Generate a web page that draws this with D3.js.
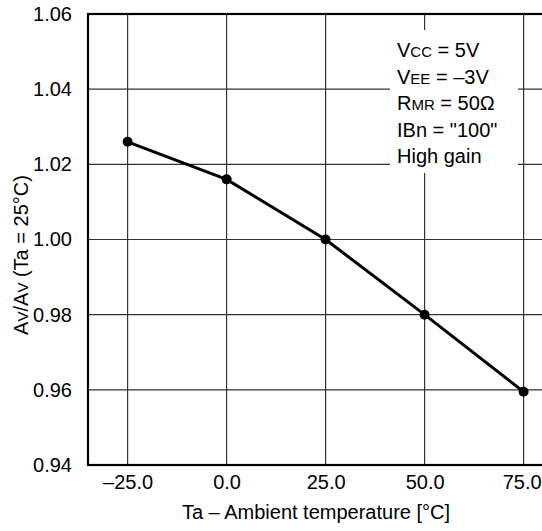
<!DOCTYPE html>
<html>
<head>
<meta charset="utf-8">
<script src="https://cdn.jsdelivr.net/npm/d3@7"></script>
<style>
  body { margin: 0; background: #fff; }
  svg { display: block; font-family: "Liberation Sans", Arial, sans-serif; }
</style>
</head>
<body>
<svg id="chart" width="542" height="531"></svg>
<script>
// data
const temps = [-25, 0, 25, 50, 75];
const gainRatio = [1.026, 1.016, 1.000, 0.980, 0.9595];
const xTicks = [-25, 0, 25, 50, 75];
const yTicks = [0.94, 0.96, 0.98, 1.00, 1.02, 1.04, 1.06];
const notes = [
  [["V", 20], ["CC", 15], [" = 5V", 20]],
  [["V", 20], ["EE", 15], [" = \u20133V", 20]],
  [["R", 20], ["MR", 15], [" = 50\u03a9", 20]],
  [["IBn = \"100\"", 20]],
  [["High gain", 20]]
];

const svg = d3.select("#chart");
const plotLeft = 88, plotTop = 14, plotBottom = 465;
const fs = 20;

const x = d3.scaleLinear().domain([-35, 85]).range([plotLeft, plotLeft + 120 * 3.96]);
const y = d3.scaleLinear().domain([0.94, 1.06]).range([plotBottom, plotTop]);

// grid
svg.append("g").selectAll("line").data(xTicks).join("line")
  .attr("x1", d => x(d)).attr("x2", d => x(d))
  .attr("y1", plotTop).attr("y2", plotBottom)
  .attr("stroke", "#333").attr("stroke-width", 1.2);
svg.append("g").selectAll("line").data(yTicks.slice(1, -1)).join("line")
  .attr("x1", plotLeft).attr("x2", x(85))
  .attr("y1", d => y(d)).attr("y2", d => y(d))
  .attr("stroke", "#333").attr("stroke-width", 1.2);

// notes box covers the grid
svg.append("rect").attr("x", 390).attr("y", 30).attr("width", 128).attr("height", 143)
  .attr("fill", "#fff");
const noteText = svg.append("g");
notes.forEach((parts, i) => {
  const t = noteText.append("text").attr("x", 397).attr("y", 57 + i * 26.5)
    .attr("fill", "#000");
  parts.forEach(p => t.append("tspan").attr("font-size", p[1]).text(p[0]));
});

// frame
svg.append("rect").attr("x", plotLeft).attr("y", plotTop)
  .attr("width", x(85) - plotLeft).attr("height", plotBottom - plotTop)
  .attr("fill", "none").attr("stroke", "#000").attr("stroke-width", 2.2);

// tick labels via d3 axes
const yAxis = svg.append("g").attr("transform", `translate(${plotLeft},0)`)
  .call(d3.axisLeft(y).tickValues(yTicks).tickFormat(d3.format(".2f")).tickSize(0).tickPadding(16));
yAxis.select(".domain").remove();
yAxis.selectAll("text").attr("font-size", fs).attr("fill", "#000")
  .attr("font-family", "Liberation Sans, Arial, sans-serif");

const xAxis = svg.append("g").attr("transform", `translate(0,${plotBottom})`)
  .call(d3.axisBottom(x).tickValues(xTicks)
    .tickFormat(d => d3.format(".1f")(d).replace(/[-\u2212]/, "\u2013")).tickSize(0).tickPadding(10));
xAxis.select(".domain").remove();
xAxis.selectAll("text").attr("font-size", fs).attr("fill", "#000")
  .attr("font-family", "Liberation Sans, Arial, sans-serif")
  .attr("dx", d => d === 75 ? -2 : 0); // last label sits on the edge

svg.append("text").attr("x", 316).attr("y", 519).attr("text-anchor", "middle")
  .attr("font-size", fs).text("Ta \u2013 Ambient temperature [\u00b0C]");

const yl = svg.append("text").attr("transform", "translate(28,255) rotate(-90)")
  .attr("text-anchor", "middle").attr("font-size", fs);
yl.append("tspan").text("A");
yl.append("tspan").attr("font-size", 15).text("V");
yl.append("tspan").text("/A");
yl.append("tspan").attr("font-size", 15).text("V");
yl.append("tspan").text(" (Ta = 25\u00b0C)");

// series
const pts = temps.map((t, i) => [t, gainRatio[i]]);
svg.append("path").datum(pts)
  .attr("d", d3.line().x(d => x(d[0])).y(d => y(d[1])))
  .attr("fill", "none").attr("stroke", "#000").attr("stroke-width", 3);
svg.append("g").selectAll("circle").data(pts).join("circle")
  .attr("cx", d => x(d[0])).attr("cy", d => y(d[1])).attr("r", 5).attr("fill", "#000");
</script>
</body>
</html>
